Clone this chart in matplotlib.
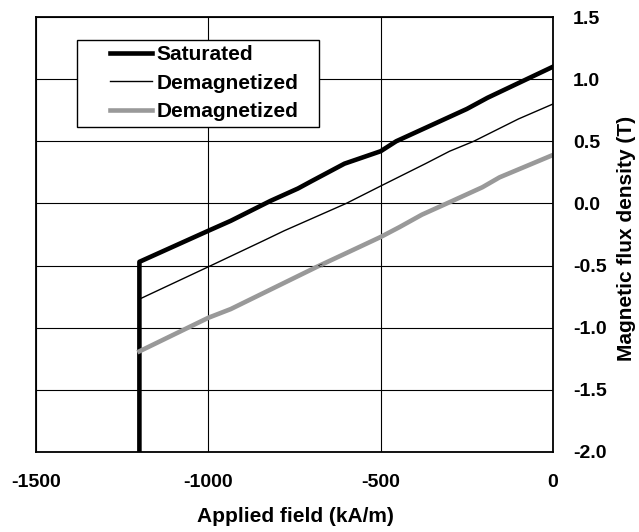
import matplotlib.pyplot as plt
from matplotlib.patches import Rectangle
from matplotlib.legend_handler import HandlerLine2D

plt.rcParams['font.family'] = ['Liberation Sans', 'DejaVu Sans']

# applied field (kA/m) and flux density (T)
sat_h = [-1200, -1200, -1000, -935, -820, -740, -700, -605, -500, -455, -250, -190, 0]
sat_b = [-2.0, -0.47, -0.22, -0.14, 0.02, 0.12, 0.18, 0.32, 0.42, 0.50, 0.76, 0.85, 1.10]

dem1_h = [-1200, -1000, -840, -780, -600, -500, -370, -300, -230, -100, 0]
dem1_b = [-0.77, -0.51, -0.30, -0.22, 0.0, 0.14, 0.32, 0.42, 0.50, 0.68, 0.80]

dem2_h = [-1200, -1000, -935, -685, -600, -500, -445, -380, -300, -205, -155, 0]
dem2_b = [-1.19, -0.92, -0.85, -0.51, -0.40, -0.27, -0.19, -0.09, 0.01, 0.13, 0.21, 0.39]

labels = ['Saturated', 'Demagnetized', 'Demagnetized']
xticks = [-1500, -1000, -500, 0]
yticks = [-2.0, -1.5, -1.0, -0.5, 0.0, 0.5, 1.0, 1.5]


class ShortHandle(HandlerLine2D):
    # legend line only on the right part of the handle box
    def get_xdata(self, legend, xdescent, ydescent, width, height, fontsize):
        xdata = [-xdescent + 0.40 * width, -xdescent + width]
        return xdata, [-xdescent + 0.7 * width]


fig = plt.figure(figsize=(6.39, 5.32), dpi=100)
ax = fig.add_axes([36 / 639, 80 / 532, 517 / 639, 435 / 532])

l1, = ax.plot(sat_h, sat_b, color='black', lw=3.3, label=labels[0])
l2, = ax.plot(dem1_h, dem1_b, color='black', lw=1.0, label=labels[1])
l3, = ax.plot(dem2_h, dem2_b, color='#999999', lw=3.3, label=labels[2])
ax.text(-676, -0.5, '<', fontsize=6, ha='center', va='center')

ax.set_xlim(-1500, 0)
ax.set_ylim(-2.0, 1.5)
ax.set_xticks(xticks)
ax.set_yticks(yticks)
ax.set_xticklabels([str(t) for t in xticks])
ax.set_yticklabels(['%.1f' % t for t in yticks])
ax.yaxis.tick_right()
ax.tick_params(length=0, labelsize=14)
ax.tick_params(axis='x', pad=16)
ax.tick_params(axis='y', pad=14.4)
for lab in ax.get_xticklabels() + ax.get_yticklabels():
    lab.set_fontweight('bold')

ax.grid(True, color='black', lw=0.8)
for s in ax.spines.values():
    s.set_linewidth(1.3)

fig.text(295 / 639, 1 - 517 / 532, 'Applied field (kA/m)', fontsize=15, fontweight='bold',
         ha='center', va='center')
fig.text(627 / 639, 1 - 238 / 532, 'Magnetic flux density (T)', fontsize=15, fontweight='bold',
         ha='center', va='center', rotation=90)

# legend box drawn separately so it can be wider than the entries
ax.add_patch(Rectangle((41 / 517, 325 / 435), 242 / 517, 87 / 435, transform=ax.transAxes,
                       facecolor='white', edgecolor='black', lw=1.0, zorder=4))
leg = ax.legend(handles=[l1, l2, l3], loc='upper left', bbox_to_anchor=(41 / 517, 412 / 435),
                borderaxespad=0, frameon=False,
                prop={'weight': 'bold', 'size': 15}, handlelength=3.35, handletextpad=0.22,
                borderpad=0.25, labelspacing=0.45,
                handler_map={l1: ShortHandle(), l2: ShortHandle(), l3: ShortHandle()})

fig.savefig('out.png', dpi=100)
